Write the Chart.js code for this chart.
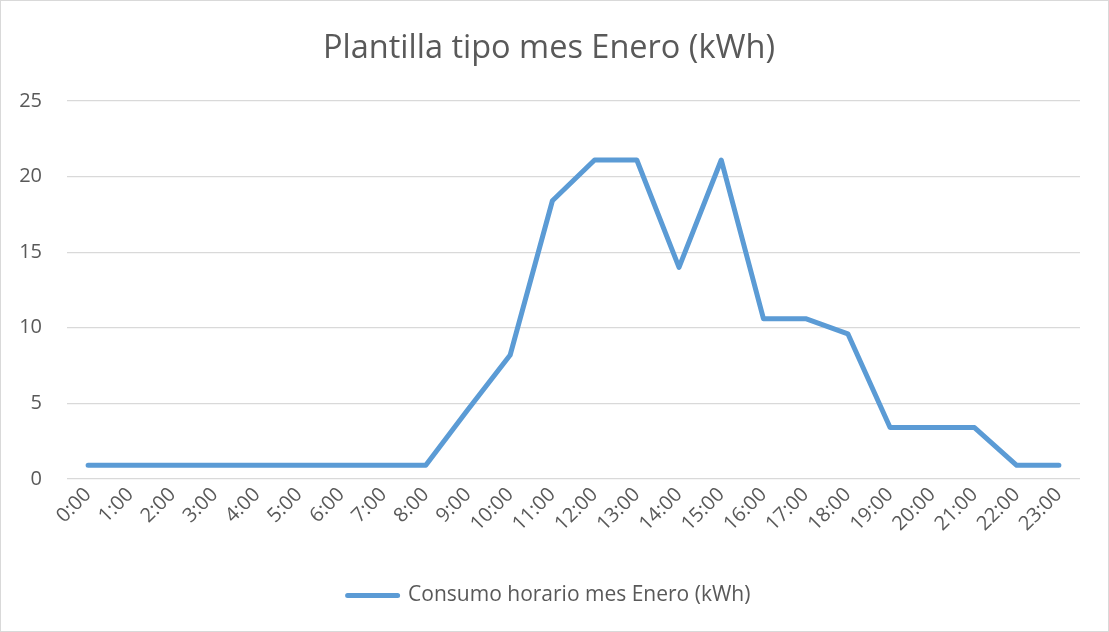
<!DOCTYPE html>
<html>
<head>
<meta charset="utf-8">
<script src="https://cdn.jsdelivr.net/npm/chart.js@4"></script>
<style>
  html, body { margin: 0; padding: 0; background: #fff; }
  #wrap { position: absolute; left: 0; top: 0; width: 1107px; height: 630px; border: 1px solid #d9d9d9; }
</style>
</head>
<body>
<div id="wrap"><canvas id="chart"></canvas></div>
<script>
const hours = ['0:00','1:00','2:00','3:00','4:00','5:00','6:00','7:00','8:00','9:00','10:00','11:00',
  '12:00','13:00','14:00','15:00','16:00','17:00','18:00','19:00','20:00','21:00','22:00','23:00'];
const consumo = [0.9,0.9,0.9,0.9,0.9,0.9,0.9,0.9,0.9,4.6,8.2,18.4,
  21.1,21.1,14.0,21.1,10.6,10.6,9.6,3.4,3.4,3.4,0.9,0.9];

const textColor = '#595959';
const gridColor = '#d9d9d9';
const fontFamily = '"Open Sans", sans-serif';

const ctx = document.getElementById('chart').getContext('2d');

// left padding nudges title/legend right; y labels still fit inside the axis box
new Chart(ctx, {
  type: 'line',
  data: {
    labels: hours,
    datasets: [{
      label: 'Consumo horario mes Enero (kWh)',
      data: consumo,
      borderColor: '#5b9bd5',
      backgroundColor: '#5b9bd5',
      borderWidth: 5,
      pointRadius: 0,
      tension: 0,
      fill: false,
      borderCapStyle: 'round',
      borderJoinStyle: 'round'
    }]
  },
  options: {
    responsive: true,
    maintainAspectRatio: false,
    animation: false,
    layout: { padding: { left: 17, right: 28, top: 0, bottom: 15 } },
    scales: {
      x: {
        offset: true,
        grid: { display: false, drawTicks: false },
        border: { display: false },
        afterFit: (scale) => { scale.height += 23; },
        ticks: {
          color: textColor,
          font: { family: fontFamily, size: 20 },
          minRotation: 45,
          maxRotation: 45,
          padding: 4,
          autoSkip: false
        }
      },
      y: {
        min: 0,
        max: 25,
        grid: { color: gridColor, lineWidth: 1.2, drawTicks: false },
        border: { display: false },
        afterFit: (scale) => { scale.width = 49; },
        ticks: {
          stepSize: 5,
          color: textColor,
          font: { family: fontFamily, size: 20 },
          padding: 25
        }
      }
    },
    plugins: {
      title: {
        display: true,
        text: 'Plantilla tipo mes Enero (kWh)',
        color: textColor,
        font: { family: fontFamily, size: 32.5, weight: 'normal' },
        padding: { top: 28, bottom: 33 }
      },
      legend: {
        display: true,
        position: 'bottom',
        labels: {
          color: textColor,
          font: { family: fontFamily, size: 21 },
          boxWidth: 50,
          boxHeight: 0,
          padding: 22
        }
      },
      tooltip: { enabled: false }
    }
  }
});
</script>
</body>
</html>
